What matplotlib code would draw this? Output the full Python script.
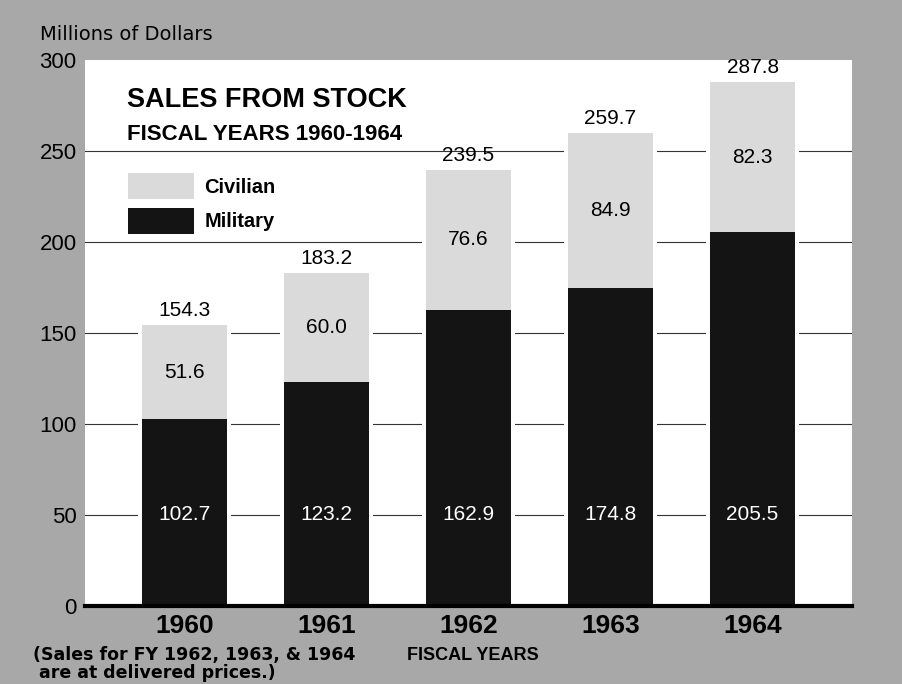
import numpy as np
import matplotlib.pyplot as plt

# data
years = ['1960', '1961', '1962', '1963', '1964']
military = [102.7, 123.2, 162.9, 174.8, 205.5]
civilian = [51.6, 60.0, 76.6, 84.9, 82.3]
totals = [154.3, 183.2, 239.5, 259.7, 287.8]
yticks = [0, 50, 100, 150, 200, 250, 300]

cond = ['Liberation Sans', 'DejaVu Sans']     # narrowest bold at hand
nums = ['Liberation Sans', 'DejaVu Sans']     # figures on the chart
plain = ['DejaVu Sans']

bg = '#a8a8a8'
mil_col = '#141414'
civ_col = '#dadada'

fig = plt.figure(figsize=(9.02, 6.84), dpi=100, facecolor=bg)
ax = fig.add_axes([85/902, 78/684, 767/902, 546/684])
ax.set_facecolor('white')

x = np.arange(len(years))
w = 0.6

# white strips so the grid lines stop just short of the bars
ax.bar(x, np.add(military, civilian), width=w + 0.05, color='white', zorder=2)
b_mil = ax.bar(x, military, width=w, color=mil_col, zorder=3, label='Military')
b_civ = ax.bar(x, civilian, width=w, bottom=military, color=civ_col, zorder=3,
               label='Civilian')

for i in range(len(years)):
    ax.text(x[i], 50, '%.1f' % military[i], ha='center', va='center',
            color='white', fontsize=15, family=nums, zorder=4)
    ax.text(x[i], military[i] + civilian[i] / 2, '%.1f' % civilian[i],
            ha='center', va='center', color='black', fontsize=15,
            family=nums, zorder=4)
    ax.text(x[i], totals[i] + 8, '%.1f' % totals[i], ha='center',
            va='center', color='black', fontsize=15, family=nums, zorder=4)

ax.set_xlim(-0.70, 4.70)
ax.set_ylim(0, 300)
ax.set_yticks(yticks)
ax.set_yticklabels([str(t) for t in yticks], family=nums, fontsize=16)
ax.set_xticks(x)
ax.set_xticklabels(years, family=cond, fontsize=19, fontweight='bold')
ax.tick_params(axis='both', length=0, colors='black')
ax.tick_params(axis='y', pad=6)
ax.tick_params(axis='x', pad=6)

ax.set_axisbelow(True)
ax.grid(axis='y', color='#333333', linewidth=0.8)
ax.get_ygridlines()[-1].set_visible(False)

for s in ['top', 'left', 'right']:
    ax.spines[s].set_visible(False)
ax.spines['bottom'].set_linewidth(3)
ax.spines['bottom'].set_color('black')
ax.spines['bottom'].set_zorder(5)

leg = ax.legend(handles=[b_civ, b_mil], labels=['Civilian', 'Military'],
                loc='upper left', bbox_to_anchor=(0.056, 0.793),
                frameon=False, borderpad=0, borderaxespad=0,
                handlelength=3.3, handleheight=1.6, handletextpad=0.5,
                labelspacing=0.45,
                prop={'family': cond, 'weight': 'bold', 'size': 14.5})

# titles and notes
fig.text(127/902, 1 - 107/684, 'SALES FROM STOCK', family=cond,
         fontweight='bold', fontsize=19.5, va='baseline', ha='left')
fig.text(127/902, 1 - 140/684, 'FISCAL YEARS 1960-1964', family=cond,
         fontweight='bold', fontsize=16, va='baseline', ha='left')
fig.text(40/902, 1 - 40/684, 'Millions of Dollars', family=plain,
         fontsize=14, va='baseline', ha='left')
fig.text(473/902, 1 - 656/684, 'FISCAL YEARS', family=cond,
         fontweight='bold', fontsize=13, va='center', ha='center')
fig.text(33/902, 1 - 664/684,
         '(Sales for FY 1962, 1963, & 1964\n are at delivered prices.)',
         family=plain, fontweight='bold', fontsize=12.5, va='center',
         ha='left', linespacing=1.0)

fig.savefig('out.png', dpi=100, facecolor=bg)
